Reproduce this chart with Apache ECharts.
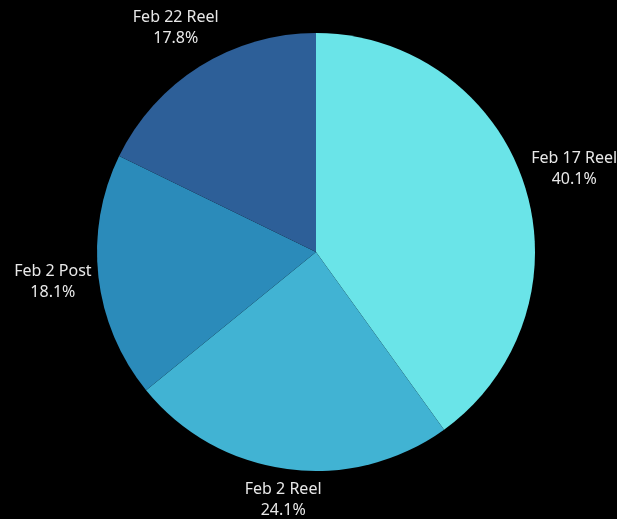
<!DOCTYPE html>
<html>
<head>
<meta charset="utf-8">
<script src="https://cdn.jsdelivr.net/npm/echarts@6/dist/echarts.min.js"></script>
<style>
  html, body { margin: 0; padding: 0; background: #000; }
  #chart { width: 617px; height: 519px; }
</style>
</head>
<body>
<div id="chart"></div>
<script>
const categories = ['Feb 17 Reel', 'Feb 2 Reel', 'Feb 2 Post', 'Feb 22 Reel'];
const shares = [40.1, 24.1, 18.1, 17.8];
const colors = ['#6ae4e8', '#41b3d3', '#2b8bba', '#2d5f98'];

const CX = 316, CY = 252, R = 219, GAP = 5;

// mid angle of each slice, clockwise from 12 o'clock
const total = shares.reduce((a, b) => a + b, 0);
let acc = 0;
const midAngles = shares.map((v) => {
  const mid = (acc + v / 2) / total * Math.PI * 2;
  acc += v;
  return mid;
});

const chart = echarts.init(document.getElementById('chart'));
chart.setOption({
  backgroundColor: '#000',
  animation: false,
  series: [{
    type: 'pie',
    center: [CX, CY],
    radius: R,
    startAngle: 90,
    clockwise: true,
    color: colors,
    label: {
      show: true,
      position: 'outside',
      formatter: (p) => `${p.name}\n${p.value}%`,
      color: '#e8e8e8',
      fontSize: 16,
      lineHeight: 21,
      fontFamily: 'Noto Sans',
      overflow: 'none',
    },
    labelLine: { show: false },
    // put each label box just outside the rim, along the slice's mid angle
    labelLayout: (params) => {
      const a = midAngles[params.dataIndex];
      const ux = Math.sin(a), uy = -Math.cos(a);
      const w = params.labelRect.width, h = params.labelRect.height;
      const d = R + GAP + Math.abs(ux) * w / 2 + Math.abs(uy) * h / 2;
      return {
        x: CX + ux * d,
        y: CY + uy * d,
        align: 'center',
        verticalAlign: 'middle',
      };
    },
    data: categories.map((name, i) => ({ name, value: shares[i] })),
  }],
});
</script>
</body>
</html>
